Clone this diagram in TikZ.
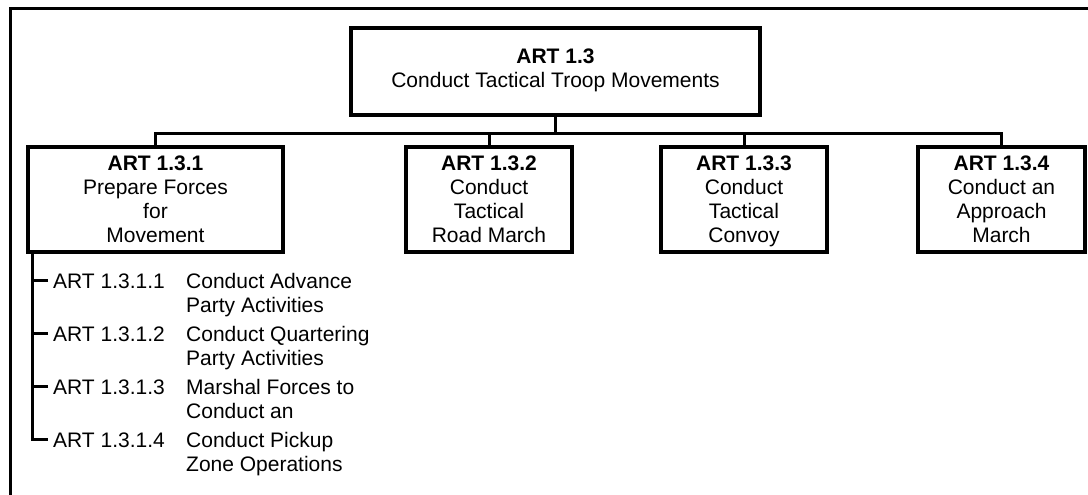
\documentclass[tikz,border=0pt]{standalone}
\usepackage{fontspec}
\setmainfont{Liberation Sans}
\newcommand{\toprule}{\rule{0pt}{21pt}}
\begin{document}
\begin{tikzpicture}[x=1pt,y=-1pt,
  every node/.style={font=\fontsize{21}{24}\selectfont},
  taskbox/.style={draw,line width=3.4pt,align=center,inner sep=0pt,
    minimum height=105pt},
  link/.style={line width=3pt},
  frame/.style={line width=3pt},
  subitem/.style={anchor=base west,inner sep=0pt}]
\useasboundingbox (0,0) rectangle (1088,495);

% partial frame along the top and left edges
\draw[frame] (10,497) -- (10,9) -- (1090,9);

% parent task
\node[taskbox,minimum width=409pt,minimum height=87pt] (root) at (555.5,71.5)
  {\textbf{ART 1.3}\\Conduct Tactical Troop Movements\strut};

% subordinate tasks
\node[taskbox,minimum width=255pt] (c1) at (155.5,199.5)
  {\toprule\textbf{ART 1.3.1}\\Prepare Forces\\for\\Movement\strut};
\node[taskbox,minimum width=166pt] (c2) at (489,199.5)
  {\toprule\textbf{ART 1.3.2}\\Conduct\\Tactical\\Road March\strut};
\node[taskbox,minimum width=166pt] (c3) at (744,199.5)
  {\toprule\textbf{ART 1.3.3}\\Conduct\\Tactical\\Convoy\strut};
\node[taskbox,minimum width=167pt] (c4) at (1001.5,199.5)
  {\toprule\textbf{ART 1.3.4}\\Conduct an\\Approach\\March\strut};

% tree connectors
\coordinate (bus) at (0,133);
\draw[link] (root.south) -- (root.south |- bus);
\draw[link] (c1.north) |- (bus -| c4.north) -- (c4.north);
\draw[link] (c2.north) -- (c2.north |- bus);
\draw[link] (c3.north) -- (c3.north |- bus);

% sub-task list under ART 1.3.1
\newcommand{\itemrow}[3]{\makebox[133pt][l]{#1}\parbox[t]{240pt}{#2\\#3}}
\node[subitem] (i1) at (53,288) {\itemrow{ART 1.3.1.1}{Conduct Advance}{Party Activities}};
\node[subitem] (i2) at (53,341) {\itemrow{ART 1.3.1.2}{Conduct Quartering}{Party Activities}};
\node[subitem] (i3) at (53,394) {\itemrow{ART 1.3.1.3}{Marshal Forces to}{Conduct an}};
\node[subitem] (i4) at (53,447) {\itemrow{ART 1.3.1.4}{Conduct Pickup}{Zone Operations}};

\draw[link] ([xshift=6pt]c1.south west) |- ([xshift=-5pt,yshift=7.5pt]i4.base west);
\draw[link] ([xshift=-5pt,yshift=7.5pt]i1.base west) -- +(-14,0);
\draw[link] ([xshift=-5pt,yshift=7.5pt]i2.base west) -- +(-14,0);
\draw[link] ([xshift=-5pt,yshift=7.5pt]i3.base west) -- +(-14,0);
\end{tikzpicture}
\end{document}
